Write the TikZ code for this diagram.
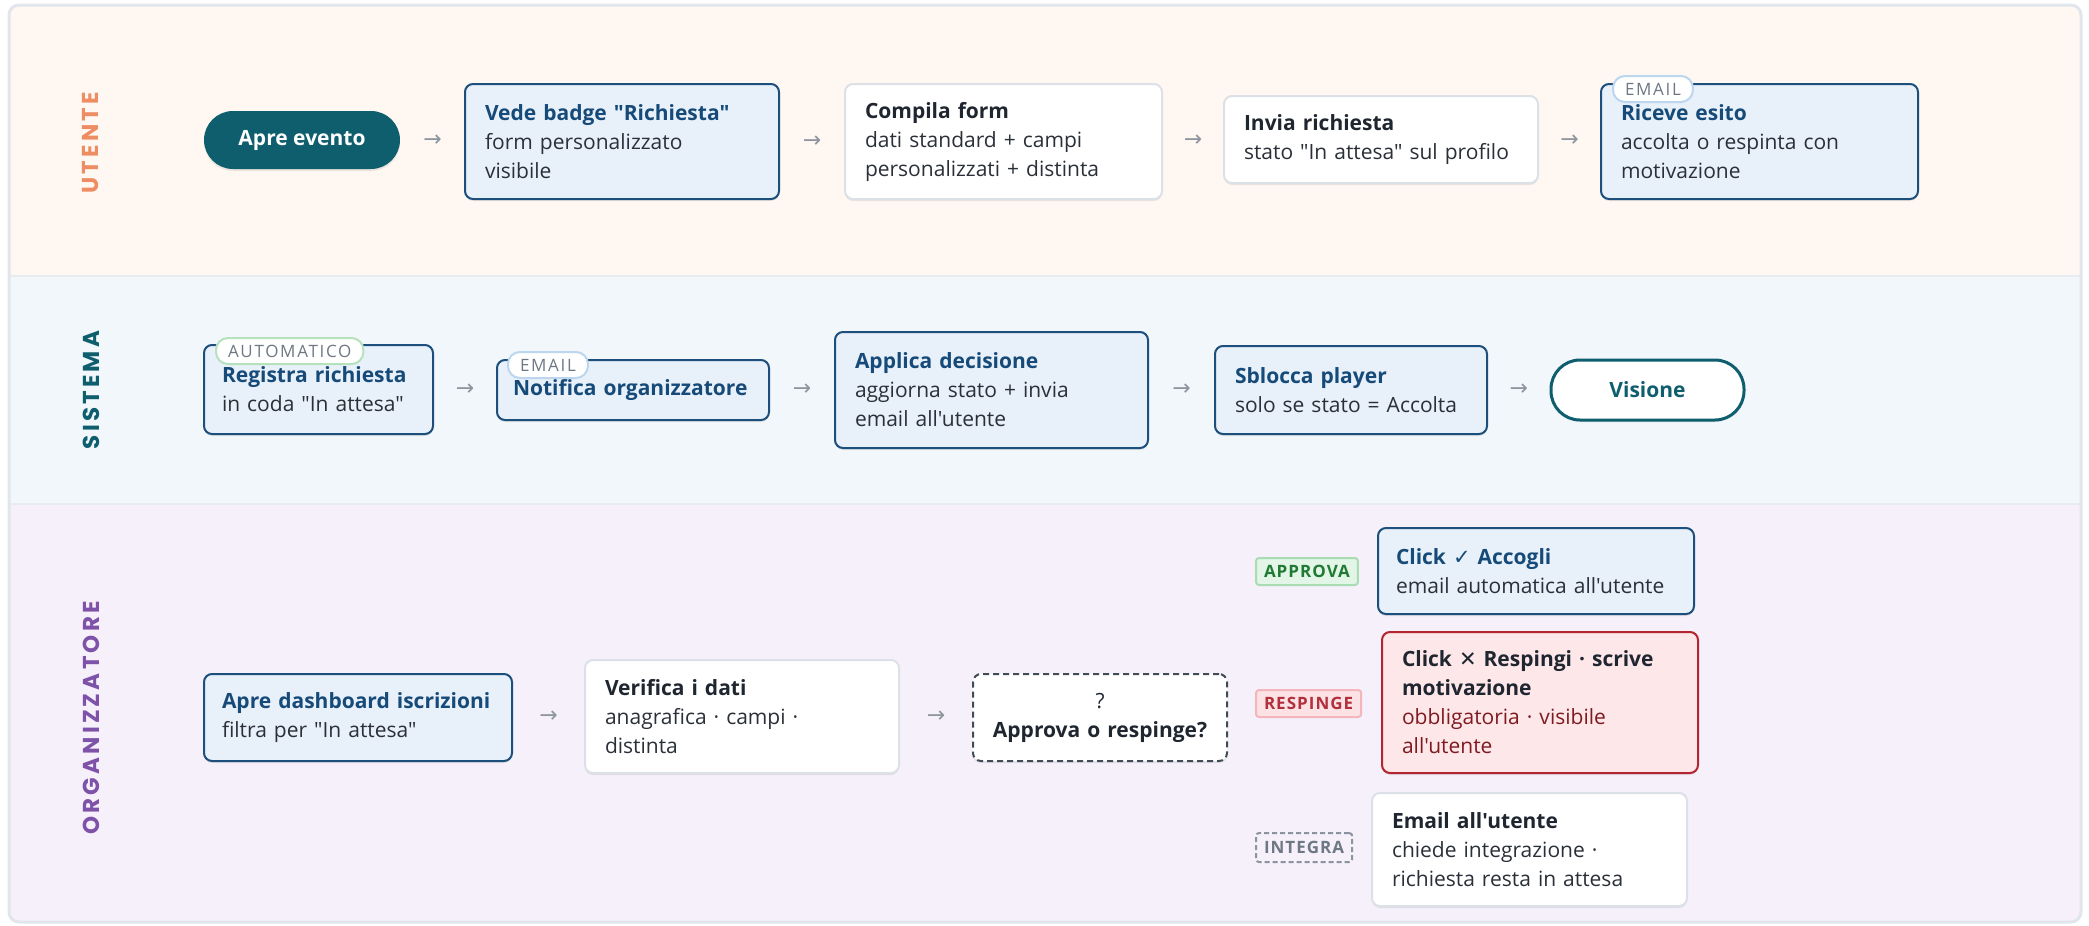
\documentclass[tikz,border=0pt]{standalone}
\usepackage{fontspec}
\newfontfamily\bodyf{Open Sans}
\newfontfamily\lanef[LetterSpace=14]{Poppins}
\newfontfamily\symf{DejaVu Sans}
\newfontfamily\badgef[LetterSpace=10]{Open Sans}
\newfontfamily\badgebf[LetterSpace=6]{Open Sans}
\usetikzlibrary{shadows,calc}
\definecolor{laneA}{HTML}{FFF7F1}
\definecolor{laneB}{HTML}{F1F7FA}
\definecolor{laneC}{HTML}{F6F0FB}
\definecolor{framec}{HTML}{E1E6EC}
\definecolor{sepc}{HTML}{E8ECF1}
\definecolor{bluefill}{HTML}{E8F0FA}
\definecolor{blueline}{HTML}{1C4F7B}
\definecolor{bluetitle}{HTML}{164B79}
\definecolor{bodyc}{HTML}{2B3038}
\definecolor{darktitle}{HTML}{1F2630}
\definecolor{tealc}{HTML}{0E5E6E}
\definecolor{grayline}{HTML}{DCE1E7}
\definecolor{redfill}{HTML}{FDE7E9}
\definecolor{redline}{HTML}{B3262F}
\definecolor{redbody}{HTML}{7F1A1F}
\definecolor{apfill}{HTML}{E3F5E6}
\definecolor{apline}{HTML}{A8DCB2}
\definecolor{aptext}{HTML}{1F7A33}
\definecolor{rsfill}{HTML}{FCE2E4}
\definecolor{rsline}{HTML}{F4B6BB}
\definecolor{rstext}{HTML}{B1303B}
\definecolor{inline}{HTML}{8A939F}
\definecolor{graytext}{HTML}{6E7884}
\definecolor{emailline}{HTML}{BBD6EE}
\definecolor{autoline}{HTML}{B5E2BD}
\definecolor{arrowc}{HTML}{8E959E}
\definecolor{decline}{HTML}{414B57}
\definecolor{orangec}{HTML}{EE8C63}
\definecolor{purplec}{HTML}{7E52A8}
\newcommand{\btl}[1]{{\bfseries\color{bluetitle}#1}}
\newcommand{\dtl}[1]{{\bfseries\color{darktitle}#1}}
\tikzset{
  shad/.style={drop shadow={shadow xshift=0pt,shadow yshift=-2pt,opacity=0.08,fill=black}},
  base/.style={rectangle, rounded corners=8pt, inner xsep=20pt, inner ysep=0pt, align=left,
    font=\bodyf\fontsize{21}{29}\selectfont, text=bodyc, line width=2pt, shad},
  bbox/.style={base, fill=bluefill, draw=blueline},
  wbox/.style={base, fill=white, draw=grayline},
  rbox/.style={base, fill=redfill, draw=redline},
  dbox/.style={base, fill=white, draw=decline, dash pattern=on 6pt off 4pt, align=center, text=darktitle},
  pillA/.style={base, fill=tealc, draw=none, text=white, align=center, rounded corners=29pt},
  pillB/.style={base, fill=white, draw=tealc, line width=3pt, text=tealc, align=center, rounded corners=29pt},
  lanelab/.style={rotate=90, font=\lanef\bfseries\fontsize{23}{23}\selectfont},
  arr/.style={font=\symf\fontsize{22}{22}\selectfont, text=arrowc},
  tagw/.style={rectangle, rounded corners=12pt, fill=white, line width=2pt, inner xsep=12pt, inner ysep=0pt,
    minimum height=26pt, font=\badgef\fontsize{17}{17}\selectfont, text=graytext, anchor=west},
  tagr/.style={rectangle, rounded corners=3pt, line width=2pt, inner xsep=8pt, inner ysep=0pt,
    minimum height=27pt, font=\badgebf\bfseries\fontsize{17}{17}\selectfont, anchor=west},
}
\begin{document}
\begin{tikzpicture}[x=1pt,y=-1pt]
\useasboundingbox (0,0) rectangle (2089,926);
% lanes
\begin{scope}
\clip[rounded corners=10pt] (9,5) rectangle (2081,922);
\fill[laneA] (9,5) rectangle (2081,276);
\fill[laneB] (9,276) rectangle (2081,504);
\fill[laneC] (9,504) rectangle (2081,922);
\draw[sepc,line width=2pt] (9,276) -- (2081,276);
\draw[sepc,line width=2pt] (9,504) -- (2081,504);
\end{scope}
\draw[framec,line width=3pt,rounded corners=10pt] (9,5) rectangle (2081,922);

\node[lanelab,text=orangec] (lu) at (91,143) {UTENTE};
\node[lanelab,text=tealc] (ls) at (91,390) {SISTEMA};
\node[lanelab,text=purplec] (lo) at (91,718) {ORGANIZZATORE};

% lane 1
\node[pillA, minimum width=196pt, minimum height=58pt] (apre) at (302,140) {\bfseries Apre evento};
\node[bbox, minimum width=314pt, minimum height=115pt, text width=274pt] (vede) at (622,141.5)
  {\btl{Vede badge "Richiesta"}\\form personalizzato\\visibile};
\node[wbox, minimum width=317pt, minimum height=115pt, text width=277pt] (compila) at (1003.5,141.5)
  {\dtl{Compila form}\\dati standard + campi\\personalizzati + distinta};
\node[wbox, minimum width=314pt, minimum height=87pt, text width=274pt] (invia) at (1381,139.5)
  {\dtl{Invia richiesta}\\stato "In attesa" sul profilo};
\node[bbox, minimum width=317pt, minimum height=115pt, text width=277pt] (riceve) at (1759.5,141.5)
  {\btl{Riceve esito}\\accolta o respinta con\\motivazione};
\node[tagw, draw=emailline] (t1) at ($(riceve.north west)+(12,6)$) {EMAIL};

\path (apre.east) -- node[arr] (a1) {→} (vede.west);
\path (vede.east) -- node[arr] (a2) {→} (compila.west);
\path (compila.east) -- node[arr] (a3) {→} (invia.west);
\path (invia.east) -- node[arr] (a4) {→} (riceve.west);

% lane 2
\node[bbox, minimum width=229pt, minimum height=89pt, inner xsep=18pt, text width=193pt] (registra) at (318.5,389.5)
  {\btl{Registra richiesta}\\in coda "In attesa"};
\node[tagw, draw=autoline] (t2) at ($(registra.north west)+(12,7)$) {AUTOMATICO};
\node[bbox, minimum width=272pt, minimum height=60pt, inner xsep=16pt, text width=240pt] (notifica) at (633,390)
  {\btl{Notifica organizzatore}};
\node[tagw, draw=emailline] (t3) at ($(notifica.north west)+(11,6)$) {EMAIL};
\node[bbox, minimum width=313pt, minimum height=116pt, text width=273pt] (applica) at (991.5,390)
  {\btl{Applica decisione}\\aggiorna stato + invia\\email all'utente};
\node[bbox, minimum width=272pt, minimum height=88pt, text width=232pt] (sblocca) at (1351,390)
  {\btl{Sblocca player}\\solo se stato = Accolta};
\node[pillB, minimum width=193pt, minimum height=60pt] (visione) at (1647.5,390) {\bfseries Visione};

\path (registra.east) -- node[arr] (b1) {→} (notifica.west);
\path (notifica.east) -- node[arr] (b2) {→} (applica.west);
\path (applica.east) -- node[arr] (b3) {→} (sblocca.west);
\path (sblocca.east) -- node[arr] (b4) {→} (visione.west);

% lane 3
\node[bbox, minimum width=308pt, minimum height=87pt, inner xsep=18pt, text width=272pt] (dash) at (358,717.5)
  {\btl{Apre dashboard iscrizioni}\\filtra per "In attesa"};
\node[wbox, minimum width=314pt, minimum height=113pt, text width=274pt] (verifica) at (742,716.5)
  {\dtl{Verifica i dati}\\anagrafica · campi ·\\distinta};
\node[dbox, minimum width=254pt, minimum height=87pt, inner xsep=8pt, text width=238pt] (decide) at (1100,717.5)
  {?\\\textbf{Approva o respinge?}};
\path (dash.east) -- node[arr] (c1) {→} (verifica.west);
\path (verifica.east) -- node[arr] (c2) {→} (decide.west);

\node[bbox, minimum width=316pt, minimum height=86pt, inner xsep=18pt, text width=280pt] (accogli) at (1536,571)
  {\btl{Click {\mdseries\symf ✓} Accogli}\\email automatica all'utente};
\node[rbox, minimum width=316pt, minimum height=141pt, text width=276pt] (respingi) at (1540,702.5)
  {\dtl{Click {\mdseries\symf ✕} Respingi · scrive}\\\dtl{motivazione}\\{\color{redbody}obbligatoria · visibile}\\{\color{redbody}all'utente}};
\node[wbox, minimum width=315pt, minimum height=113pt, text width=275pt] (email) at (1529.5,849.5)
  {\dtl{Email all'utente}\\chiede integrazione ·\\richiesta resta in attesa};

\node[tagr, fill=apfill, draw=apline, text=aptext] (g1) at (1255,571.5) {APPROVA};
\node[tagr, fill=rsfill, draw=rsline, text=rstext] (g2) at (1255,703.5) {RESPINGE};
\node[tagr, draw=inline, dash pattern=on 5pt off 3pt, text=graytext, minimum height=29pt] (g3) at (1255,847.5) {INTEGRA};
\end{tikzpicture}
\end{document}
